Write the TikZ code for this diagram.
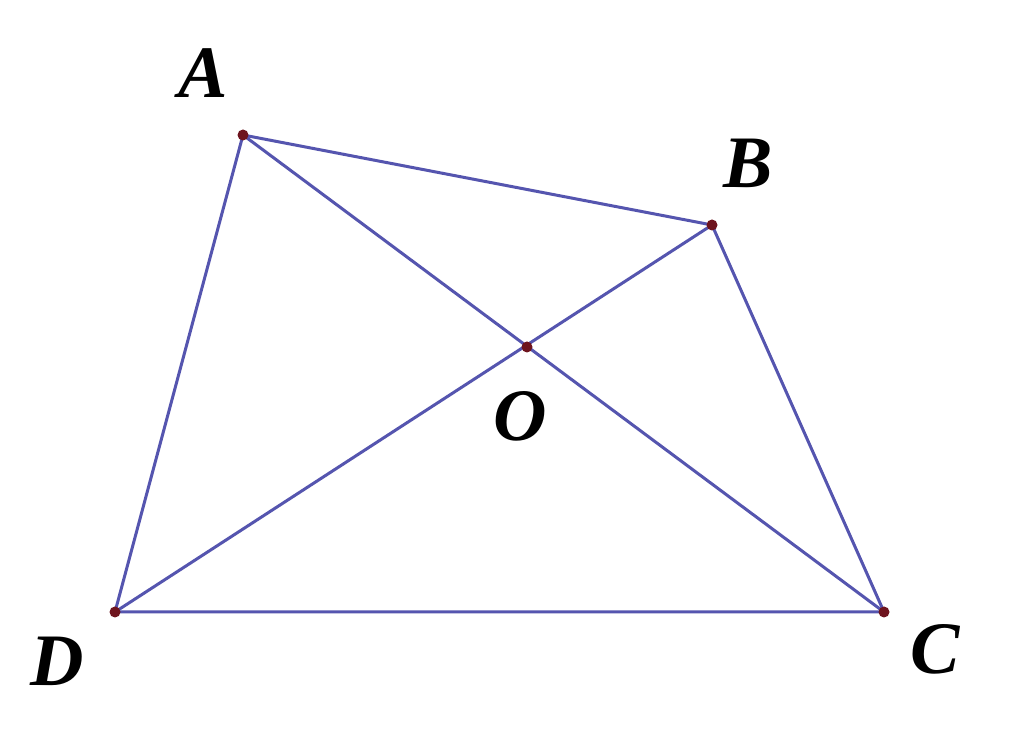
\documentclass[tikz,border=0pt]{standalone}
\usepackage{fontspec}
\setmainfont{Liberation Serif}
\begin{document}
\begin{tikzpicture}[x=1pt,y=1pt,
  seg/.style={draw={rgb,255:red,85;green,85;blue,175}, line width=3pt},
  pt/.style={circle, fill={rgb,255:red,110;green,20;blue,30}, inner sep=0pt, minimum size=11pt},
  lab/.style={font=\fontsize{74}{76}\selectfont\bfseries\itshape, inner sep=0pt}]
\useasboundingbox (0,0) rectangle (1024,751);
\fill[white] (0,0) rectangle (1024,751);
\coordinate (A) at (243,616);
\coordinate (B) at (712,526);
\coordinate (O) at (527,404);
\coordinate (D) at (115,139);
\coordinate (C) at (884,139);
\draw[seg] (A) -- (B) -- (C) -- (D) -- cycle;
\draw[seg] (A) -- (C);
\draw[seg] (B) -- (D);
\foreach \p in {A,B,O,C,D} \node[pt] at (\p) {};
\node[lab] (lA) at (203,678) {A};
\node[lab] (lB) at (748,588) {B};
\node[lab] (lO) at (520,335) {O};
\node[lab] (lD) at (57,90) {D};
\node[lab] (lC) at (935,102) {C};
\end{tikzpicture}
\end{document}
